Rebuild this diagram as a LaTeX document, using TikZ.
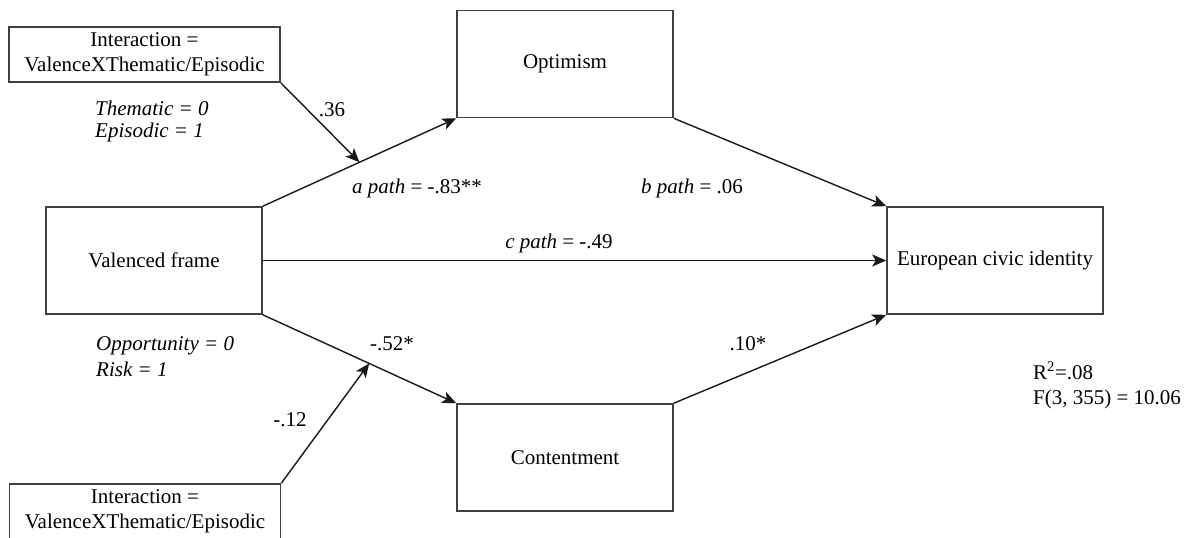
\documentclass[tikz,border=0pt]{standalone}
\usepackage{fontspec}
\setmainfont{Liberation Serif}
\usetikzlibrary{arrows.meta,calc}

\begin{document}
\begin{tikzpicture}[x=1pt,y=-1pt,
    font=\fontsize{21}{25}\selectfont,
    var/.style={draw=black!75,line width=1.6pt,inner sep=0pt,align=center,
      minimum width=216pt,minimum height=107pt},
    modbox/.style={var,minimum width=271pt,minimum height=55pt},
    path arrow/.style={draw=black!90,line width=1.4pt,
      -{Stealth[length=14pt,width=12pt,inset=3.5pt]}},
    note/.style={inner sep=0pt,align=left,anchor=west,font=\fontsize{21}{22}\selectfont\itshape}]
  \useasboundingbox (0,0) rectangle (1192,538);
  % boxes
  \node[var] (valence) at (154,260.5) {Valenced frame};
  \node[var] (optim) at (565,64) {Optimism};
  \node[var] (content) at (565,457.5) {Contentment};
  \node[var] (euro) at (995,260.5) {European civic identity};
  \node[modbox] (inttop) at (144.5,54.5) {Interaction =\\ValenceXThematic/Episodic};
  \node[modbox] (intbot) at (145,511.5) {Interaction =\\ValenceXThematic/Episodic};
  % paths
  \draw[path arrow] (valence.north east) -- (optim.south west);
  \draw[path arrow] (optim.south east) -- (euro.north west);
  \draw[path arrow] (valence.east) -- (euro.west);
  \draw[path arrow] (valence.south east) -- (content.north west);
  \draw[path arrow] (content.north east) -- (euro.south west);
  % moderation
  \coordinate (amod) at ($(valence.north east)!0.5!(optim.south west)$);
  \coordinate (cmod) at ($(valence.south east)!0.55!(content.north west)$);
  \draw[path arrow] (inttop.south east) -- (amod);
  \draw[path arrow] (intbot.north east) -- (cmod);
  % labels
  \node[inner sep=0pt] (lmodtop) at (332,110) {.36};
  \node[inner sep=0pt] (lmodbot) at (290,420) {-.12};
  \node[note] (codetop) at (95,121) {Thematic = 0\\Episodic = 1};
  \node[note,font=\fontsize{21}{26}\selectfont\itshape] (codebot) at (96,357) {Opportunity = 0\\Risk = 1};
  \node[inner sep=0pt] (lapath) at (417,188) {\textit{a path} = -.83**};
  \node[inner sep=0pt] (lbpath) at (692,188) {\textit{b path} = .06};
  \node[inner sep=0pt] (lcpath) at (559,243) {\textit{c path} = -.49};
  \node[inner sep=0pt] (lcont) at (392,344) {-.52*};
  \node[inner sep=0pt] (lcontb) at (748,344) {.10*};
  \node[inner sep=0pt,align=left,anchor=west] (fit) at (1033,385.5) {R\textsuperscript{2}=.08\\F(3, 355) = 10.06};
\end{tikzpicture}
\end{document}
